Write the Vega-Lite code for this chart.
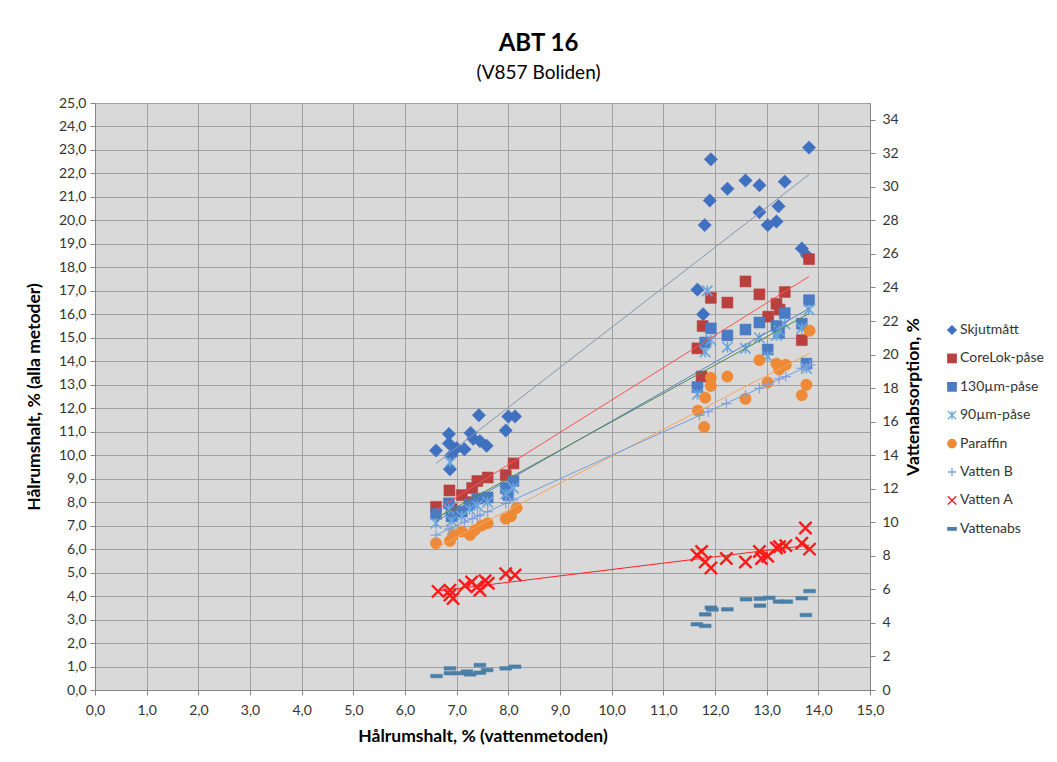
{
  "$schema": "https://vega.github.io/schema/vega-lite/v6.json",
  "width": 775,
  "height": 587,
  "autosize": {"type": "none"},
  "padding": {"left": 95, "top": 103, "right": 187, "bottom": 72},
  "background": "white",
  "config": {
    "locale": {"number": {"decimal": ",", "thousands": " ", "grouping": [3], "currency": ["", ""]}},
    "font": "Lato",
    "view": {"fill": "#d9d9d9", "stroke": "#a0a0a0"},
    "axis": {
      "gridColor": "#a0a0a0",
      "gridWidth": 1,
      "gridOpacity": 1,
      "domainColor": "#868686",
      "tickColor": "#868686",
      "tickSize": 5,
      "labelFontSize": 14,
      "labelColor": "#333333",
      "labelOverlap": false,
      "titleFontSize": 17.5,
      "titleFontWeight": "bold",
      "titleColor": "#000000"
    },
    "legend": {"labelFontSize": 14, "labelColor": "#333333", "orient": "none", "legendX": 850, "legendY": 220, "rowPadding": 14.4, "labelOffset": 1, "padding": 0, "symbolSize": 70, "symbolStrokeWidth": 1.3}
  },
  "title": {
    "text": "ABT 16",
    "subtitle": "(V857 Boliden)",
    "fontSize": 24,
    "fontWeight": "bold",
    "color": "#000000",
    "subtitleFontSize": 19,
    "subtitleColor": "#000000",
    "anchor": "middle",
    "dx": 56,
    "offset": 13,
    "subtitlePadding": 8
  },
  "data": {
    "values": [
      {"s": "Skjutmått", "x": 6.6, "y": 10.2},
      {"s": "Skjutmått", "x": 6.85, "y": 10.5},
      {"s": "Skjutmått", "x": 6.85, "y": 10.9},
      {"s": "Skjutmått", "x": 6.9, "y": 10.0},
      {"s": "Skjutmått", "x": 6.87, "y": 9.4},
      {"s": "Skjutmått", "x": 7.0, "y": 10.3},
      {"s": "Skjutmått", "x": 7.15, "y": 10.25},
      {"s": "Skjutmått", "x": 7.27, "y": 10.95},
      {"s": "Skjutmått", "x": 7.32, "y": 10.7},
      {"s": "Skjutmått", "x": 7.43, "y": 11.7},
      {"s": "Skjutmått", "x": 7.45, "y": 10.6},
      {"s": "Skjutmått", "x": 7.58, "y": 10.4},
      {"s": "Skjutmått", "x": 7.95, "y": 11.05},
      {"s": "Skjutmått", "x": 8.0, "y": 11.65},
      {"s": "Skjutmått", "x": 8.13, "y": 11.65},
      {"s": "Skjutmått", "x": 11.66, "y": 17.05},
      {"s": "Skjutmått", "x": 11.77, "y": 16.0},
      {"s": "Skjutmått", "x": 11.8, "y": 19.8},
      {"s": "Skjutmått", "x": 11.9, "y": 20.85},
      {"s": "Skjutmått", "x": 11.92, "y": 22.6},
      {"s": "Skjutmått", "x": 12.24, "y": 21.35},
      {"s": "Skjutmått", "x": 12.59, "y": 21.7},
      {"s": "Skjutmått", "x": 12.86, "y": 21.5},
      {"s": "Skjutmått", "x": 12.86, "y": 20.35},
      {"s": "Skjutmått", "x": 13.02, "y": 19.8},
      {"s": "Skjutmått", "x": 13.19, "y": 19.95},
      {"s": "Skjutmått", "x": 13.23, "y": 20.6},
      {"s": "Skjutmått", "x": 13.35, "y": 21.65},
      {"s": "Skjutmått", "x": 13.68, "y": 18.8},
      {"s": "Skjutmått", "x": 13.78, "y": 18.5},
      {"s": "Skjutmått", "x": 13.82, "y": 23.1},

      {"s": "CoreLok-påse", "x": 6.6, "y": 7.8},
      {"s": "CoreLok-påse", "x": 6.86, "y": 8.5},
      {"s": "CoreLok-påse", "x": 6.9, "y": 7.7},
      {"s": "CoreLok-påse", "x": 7.1, "y": 8.3},
      {"s": "CoreLok-påse", "x": 7.25, "y": 8.0},
      {"s": "CoreLok-påse", "x": 7.3, "y": 8.6},
      {"s": "CoreLok-påse", "x": 7.4, "y": 8.9},
      {"s": "CoreLok-påse", "x": 7.6, "y": 9.05},
      {"s": "CoreLok-påse", "x": 7.95, "y": 9.15},
      {"s": "CoreLok-påse", "x": 8.1, "y": 9.65},
      {"s": "CoreLok-påse", "x": 11.66, "y": 14.55},
      {"s": "CoreLok-påse", "x": 11.74, "y": 13.35},
      {"s": "CoreLok-påse", "x": 11.76, "y": 15.5},
      {"s": "CoreLok-påse", "x": 11.92, "y": 16.7},
      {"s": "CoreLok-påse", "x": 12.24, "y": 16.5},
      {"s": "CoreLok-påse", "x": 12.59, "y": 17.4},
      {"s": "CoreLok-påse", "x": 12.86, "y": 16.85},
      {"s": "CoreLok-påse", "x": 13.03, "y": 15.9},
      {"s": "CoreLok-påse", "x": 13.19, "y": 16.45},
      {"s": "CoreLok-påse", "x": 13.25, "y": 16.2},
      {"s": "CoreLok-påse", "x": 13.35, "y": 16.95},
      {"s": "CoreLok-påse", "x": 13.68, "y": 14.9},
      {"s": "CoreLok-påse", "x": 13.82, "y": 18.35},

      {"s": "130µm-påse", "x": 6.6, "y": 7.5},
      {"s": "130µm-påse", "x": 6.85, "y": 7.95},
      {"s": "130µm-påse", "x": 6.9, "y": 7.4},
      {"s": "130µm-påse", "x": 7.1, "y": 7.6},
      {"s": "130µm-påse", "x": 7.25, "y": 7.9},
      {"s": "130µm-påse", "x": 7.4, "y": 8.15},
      {"s": "130µm-påse", "x": 7.6, "y": 8.2},
      {"s": "130µm-påse", "x": 7.95, "y": 8.6},
      {"s": "130µm-påse", "x": 8.0, "y": 8.3},
      {"s": "130µm-påse", "x": 8.1, "y": 8.9},
      {"s": "130µm-påse", "x": 11.66, "y": 12.9},
      {"s": "130µm-påse", "x": 11.81, "y": 14.8},
      {"s": "130µm-påse", "x": 11.92, "y": 15.4},
      {"s": "130µm-påse", "x": 12.24, "y": 15.1},
      {"s": "130µm-påse", "x": 12.59, "y": 15.35},
      {"s": "130µm-påse", "x": 12.86, "y": 15.65},
      {"s": "130µm-påse", "x": 13.02, "y": 14.5},
      {"s": "130µm-påse", "x": 13.19, "y": 15.5},
      {"s": "130µm-påse", "x": 13.24, "y": 15.2},
      {"s": "130µm-påse", "x": 13.35, "y": 16.05},
      {"s": "130µm-påse", "x": 13.68, "y": 15.6},
      {"s": "130µm-påse", "x": 13.77, "y": 13.9},
      {"s": "130µm-påse", "x": 13.82, "y": 16.6},

      {"s": "90µm-påse", "x": 6.6, "y": 7.1},
      {"s": "90µm-påse", "x": 6.85, "y": 7.7},
      {"s": "90µm-påse", "x": 6.87, "y": 9.7},
      {"s": "90µm-påse", "x": 6.9, "y": 7.2},
      {"s": "90µm-påse", "x": 7.1, "y": 7.4},
      {"s": "90µm-påse", "x": 7.25, "y": 7.7},
      {"s": "90µm-påse", "x": 7.4, "y": 7.85},
      {"s": "90µm-påse", "x": 7.6, "y": 8.0},
      {"s": "90µm-påse", "x": 7.95, "y": 8.35},
      {"s": "90µm-påse", "x": 8.1, "y": 8.6},
      {"s": "90µm-påse", "x": 11.66, "y": 12.6},
      {"s": "90µm-påse", "x": 11.81, "y": 14.4},
      {"s": "90µm-påse", "x": 11.85, "y": 17.0},
      {"s": "90µm-påse", "x": 11.92, "y": 14.9},
      {"s": "90µm-påse", "x": 12.24, "y": 14.6},
      {"s": "90µm-påse", "x": 12.59, "y": 14.55},
      {"s": "90µm-påse", "x": 12.86, "y": 15.0},
      {"s": "90µm-påse", "x": 13.02, "y": 14.2},
      {"s": "90µm-påse", "x": 13.19, "y": 15.1},
      {"s": "90µm-påse", "x": 13.24, "y": 15.3},
      {"s": "90µm-påse", "x": 13.35, "y": 15.6},
      {"s": "90µm-påse", "x": 13.68, "y": 15.4},
      {"s": "90µm-påse", "x": 13.77, "y": 13.7},
      {"s": "90µm-påse", "x": 13.82, "y": 16.2},

      {"s": "Paraffin", "x": 6.6, "y": 6.25},
      {"s": "Paraffin", "x": 6.87, "y": 6.35},
      {"s": "Paraffin", "x": 6.93, "y": 6.6},
      {"s": "Paraffin", "x": 7.1, "y": 6.75},
      {"s": "Paraffin", "x": 7.26, "y": 6.6},
      {"s": "Paraffin", "x": 7.35, "y": 6.8},
      {"s": "Paraffin", "x": 7.48, "y": 7.0},
      {"s": "Paraffin", "x": 7.6, "y": 7.1},
      {"s": "Paraffin", "x": 7.95, "y": 7.3},
      {"s": "Paraffin", "x": 8.05, "y": 7.4},
      {"s": "Paraffin", "x": 8.16, "y": 7.75},
      {"s": "Paraffin", "x": 11.67, "y": 11.9},
      {"s": "Paraffin", "x": 11.79, "y": 11.2},
      {"s": "Paraffin", "x": 11.81, "y": 12.45},
      {"s": "Paraffin", "x": 11.92, "y": 12.95},
      {"s": "Paraffin", "x": 11.92, "y": 13.3},
      {"s": "Paraffin", "x": 12.24, "y": 13.35},
      {"s": "Paraffin", "x": 12.59, "y": 12.4},
      {"s": "Paraffin", "x": 12.86, "y": 14.05},
      {"s": "Paraffin", "x": 13.02, "y": 13.1},
      {"s": "Paraffin", "x": 13.19, "y": 13.9},
      {"s": "Paraffin", "x": 13.24, "y": 13.65},
      {"s": "Paraffin", "x": 13.37, "y": 13.85},
      {"s": "Paraffin", "x": 13.68, "y": 12.55},
      {"s": "Paraffin", "x": 13.77, "y": 13.0},
      {"s": "Paraffin", "x": 13.83, "y": 15.3},

      {"s": "Vatten B", "x": 6.6, "y": 6.6},
      {"s": "Vatten B", "x": 6.85, "y": 6.85},
      {"s": "Vatten B", "x": 6.9, "y": 6.9},
      {"s": "Vatten B", "x": 7.15, "y": 7.15},
      {"s": "Vatten B", "x": 7.3, "y": 7.3},
      {"s": "Vatten B", "x": 7.4, "y": 7.4},
      {"s": "Vatten B", "x": 7.45, "y": 7.45},
      {"s": "Vatten B", "x": 7.6, "y": 7.6},
      {"s": "Vatten B", "x": 7.95, "y": 7.95},
      {"s": "Vatten B", "x": 8.1, "y": 8.1},
      {"s": "Vatten B", "x": 11.7, "y": 11.7},
      {"s": "Vatten B", "x": 11.87, "y": 11.85},
      {"s": "Vatten B", "x": 12.22, "y": 12.2},
      {"s": "Vatten B", "x": 12.59, "y": 12.55},
      {"s": "Vatten B", "x": 12.86, "y": 12.85},
      {"s": "Vatten B", "x": 13.02, "y": 13.0},
      {"s": "Vatten B", "x": 13.24, "y": 13.25},
      {"s": "Vatten B", "x": 13.37, "y": 13.35},
      {"s": "Vatten B", "x": 13.68, "y": 13.7},
      {"s": "Vatten B", "x": 13.84, "y": 13.85},

      {"s": "Vatten A", "x": 6.64, "y": 4.2},
      {"s": "Vatten A", "x": 6.87, "y": 4.25},
      {"s": "Vatten A", "x": 6.87, "y": 4.05},
      {"s": "Vatten A", "x": 6.93, "y": 3.9},
      {"s": "Vatten A", "x": 7.16, "y": 4.45},
      {"s": "Vatten A", "x": 7.29, "y": 4.6},
      {"s": "Vatten A", "x": 7.39, "y": 4.4},
      {"s": "Vatten A", "x": 7.45, "y": 4.25},
      {"s": "Vatten A", "x": 7.55, "y": 4.65},
      {"s": "Vatten A", "x": 7.61, "y": 4.55},
      {"s": "Vatten A", "x": 7.95, "y": 4.95},
      {"s": "Vatten A", "x": 8.13, "y": 4.9},
      {"s": "Vatten A", "x": 11.65, "y": 5.75},
      {"s": "Vatten A", "x": 11.74, "y": 5.9},
      {"s": "Vatten A", "x": 11.81, "y": 5.45},
      {"s": "Vatten A", "x": 11.92, "y": 5.2},
      {"s": "Vatten A", "x": 12.22, "y": 5.6},
      {"s": "Vatten A", "x": 12.59, "y": 5.45},
      {"s": "Vatten A", "x": 12.86, "y": 5.9},
      {"s": "Vatten A", "x": 12.9, "y": 5.6},
      {"s": "Vatten A", "x": 13.02, "y": 5.7},
      {"s": "Vatten A", "x": 13.19, "y": 6.05},
      {"s": "Vatten A", "x": 13.25, "y": 6.1},
      {"s": "Vatten A", "x": 13.37, "y": 6.15},
      {"s": "Vatten A", "x": 13.68, "y": 6.25},
      {"s": "Vatten A", "x": 13.75, "y": 6.9},
      {"s": "Vatten A", "x": 13.83, "y": 6.0},

      {"s": "Vattenabs", "x": 6.61, "y": 0.83},
      {"s": "Vattenabs", "x": 6.87, "y": 1.29},
      {"s": "Vattenabs", "x": 6.87, "y": 1.0},
      {"s": "Vattenabs", "x": 7.06, "y": 1.0},
      {"s": "Vattenabs", "x": 7.2, "y": 1.1},
      {"s": "Vattenabs", "x": 7.26, "y": 0.93},
      {"s": "Vattenabs", "x": 7.45, "y": 1.49},
      {"s": "Vattenabs", "x": 7.45, "y": 1.03},
      {"s": "Vattenabs", "x": 7.59, "y": 1.19},
      {"s": "Vattenabs", "x": 7.95, "y": 1.29},
      {"s": "Vattenabs", "x": 8.13, "y": 1.39},
      {"s": "Vattenabs", "x": 11.65, "y": 3.92},
      {"s": "Vattenabs", "x": 11.81, "y": 3.82},
      {"s": "Vattenabs", "x": 11.81, "y": 4.51},
      {"s": "Vattenabs", "x": 11.92, "y": 4.91},
      {"s": "Vattenabs", "x": 11.95, "y": 4.8},
      {"s": "Vattenabs", "x": 12.24, "y": 4.81},
      {"s": "Vattenabs", "x": 12.6, "y": 5.41},
      {"s": "Vattenabs", "x": 12.87, "y": 5.44},
      {"s": "Vattenabs", "x": 12.87, "y": 5.03},
      {"s": "Vattenabs", "x": 13.05, "y": 5.5},
      {"s": "Vattenabs", "x": 13.24, "y": 5.27},
      {"s": "Vattenabs", "x": 13.39, "y": 5.27},
      {"s": "Vattenabs", "x": 13.68, "y": 5.47},
      {"s": "Vattenabs", "x": 13.83, "y": 5.9},
      {"s": "Vattenabs", "x": 13.76, "y": 4.47}
    ]
  },
  "encoding": {
    "x": {
      "field": "x", "type": "quantitative",
      "scale": {"domain": [0, 15], "nice": false, "zero": true},
      "axis": {"values": [0,1,2,3,4,5,6,7,8,9,10,11,12,13,14,15], "format": ".1f", "title": "Hålrumshalt, % (vattenmetoden)", "labelPadding": 8, "titlePadding": 10, "grid": true, "labelFlush": false}
    }
  },
  "layer": [
    {
      "encoding": {
        "y": {
          "field": "y", "type": "quantitative",
          "scale": {"domain": [0, 25], "nice": false, "zero": true},
          "axis": {"orient": "left", "values": [0,1,2,3,4,5,6,7,8,9,10,11,12,13,14,15,16,17,18,19,20,21,22,23,24,25], "format": ".1f", "title": "Hålrumshalt, % (alla metoder)", "labelPadding": 4, "titlePadding": 15, "grid": true}
        }
      },
      "layer": [
        {
          "encoding": {
            "fill": {
              "field": "s", "type": "nominal", "title": null,
              "scale": {"domain": ["Skjutmått", "CoreLok-påse", "130µm-påse", "90µm-påse", "Paraffin", "Vatten B", "Vatten A", "Vattenabs"],
                        "range": ["#4070c0", "#b9403f", "#4a7cc4", "#6aa6dc", "#ee8a35", "#8aa0dc", "#ff1a1a", "#4a7fa8"]}
            },
            "stroke": {
              "field": "s", "type": "nominal", "title": null,
              "scale": {"domain": ["Skjutmått", "CoreLok-påse", "130µm-påse", "90µm-påse", "Paraffin", "Vatten B", "Vatten A", "Vattenabs"],
                        "range": ["#4070c0", "#b9403f", "#4a7cc4", "#6aa6dc", "#ee8a35", "#8aa0dc", "#ff1a1a", "#4a7fa8"]}
            },
            "shape": {
              "field": "s", "type": "nominal", "title": null,
              "scale": {"domain": ["Skjutmått", "CoreLok-påse", "130µm-påse", "90µm-påse", "Paraffin", "Vatten B", "Vatten A", "Vattenabs"],
                        "range": ["diamond", "square", "square", "M-1,-1L1,1M-1,1L1,-1M0,-1L0,1", "circle", "M-1,0L1,0M0,-1L0,1", "M-1,-1L1,1M-1,1L1,-1", "M-1,-0.3L1,-0.3L1,0.3L-1,0.3Z"]}
            }
          },
          "layer": [
            {
              "transform": [{"filter": "datum.s === 'Skjutmått'"}],
              "mark": {"type": "point", "filled": true, "opacity": 1, "size": 180, "strokeWidth": 0.5}
            },
            {
              "transform": [{"filter": "datum.s === 'CoreLok-påse' || datum.s === '130µm-påse'"}],
              "mark": {"type": "point", "filled": true, "opacity": 1, "size": 121, "strokeWidth": 0.5}
            },
            {
              "transform": [{"filter": "datum.s === '90µm-påse'"}],
              "mark": {"type": "point", "filled": true, "opacity": 1, "size": 110, "strokeWidth": 1.6}
            },
            {
              "transform": [{"filter": "datum.s === 'Paraffin'"}],
              "mark": {"type": "point", "filled": true, "opacity": 1, "size": 130, "strokeWidth": 0.5}
            },
            {
              "transform": [{"filter": "datum.s === 'Vatten B'"}],
              "mark": {"type": "point", "filled": true, "opacity": 1, "size": 110, "strokeWidth": 1.2}
            },
            {
              "transform": [{"filter": "datum.s === 'Vatten A'"}],
              "mark": {"type": "point", "filled": true, "opacity": 1, "size": 150, "strokeWidth": 2.4}
            }
          ]
        },
        {
          "transform": [{"filter": "datum.s === 'Skjutmått'"}, {"regression": "y", "on": "x"}],
          "mark": {"type": "line", "color": "#8497b0", "strokeWidth": 1},
          "encoding": {}
        },
        {
          "transform": [{"filter": "datum.s === 'CoreLok-påse'"}, {"regression": "y", "on": "x"}],
          "mark": {"type": "line", "color": "#ff5050", "strokeWidth": 1},
          "encoding": {}
        },
        {
          "transform": [{"filter": "datum.s === '130µm-påse'"}, {"regression": "y", "on": "x"}],
          "mark": {"type": "line", "color": "#5b7fc0", "strokeWidth": 1},
          "encoding": {}
        },
        {
          "transform": [{"filter": "datum.s === '90µm-påse'"}, {"regression": "y", "on": "x"}],
          "mark": {"type": "line", "color": "#4f8a4a", "strokeWidth": 1},
          "encoding": {}
        },
        {
          "transform": [{"filter": "datum.s === 'Paraffin'"}, {"regression": "y", "on": "x"}],
          "mark": {"type": "line", "color": "#f4a460", "strokeWidth": 1},
          "encoding": {}
        },
        {
          "transform": [{"filter": "datum.s === 'Vatten B'"}, {"regression": "y", "on": "x"}],
          "mark": {"type": "line", "color": "#6fa0dc", "strokeWidth": 1},
          "encoding": {}
        },
        {
          "transform": [{"filter": "datum.s === 'Vatten A'"}, {"regression": "y", "on": "x"}],
          "mark": {"type": "line", "color": "#ff2020", "strokeWidth": 1},
          "encoding": {}
        }
      ]
    },
    {
      "transform": [{"filter": "datum.s === 'Vattenabs'"}],
      "mark": {"type": "point", "filled": true, "opacity": 1, "size": 140, "strokeWidth": 0.5},
      "encoding": {
        "y": {
          "field": "y", "type": "quantitative",
          "scale": {"domain": [0, 35], "nice": false, "zero": true},
          "axis": {"orient": "right", "values": [0,2,4,6,8,10,12,14,16,18,20,22,24,26,28,30,32,34], "format": "d", "title": "Vattenabsorption, %", "titleAngle": -90, "titleBaseline": "top", "labelPadding": 7, "titlePadding": 6, "grid": false}
        },
        "fill": {"field": "s", "type": "nominal", "title": null},
        "stroke": {"field": "s", "type": "nominal", "title": null},
        "shape": {"field": "s", "type": "nominal", "title": null}
      }
    }
  ],
  "resolve": {"scale": {"y": "independent"}}
}
